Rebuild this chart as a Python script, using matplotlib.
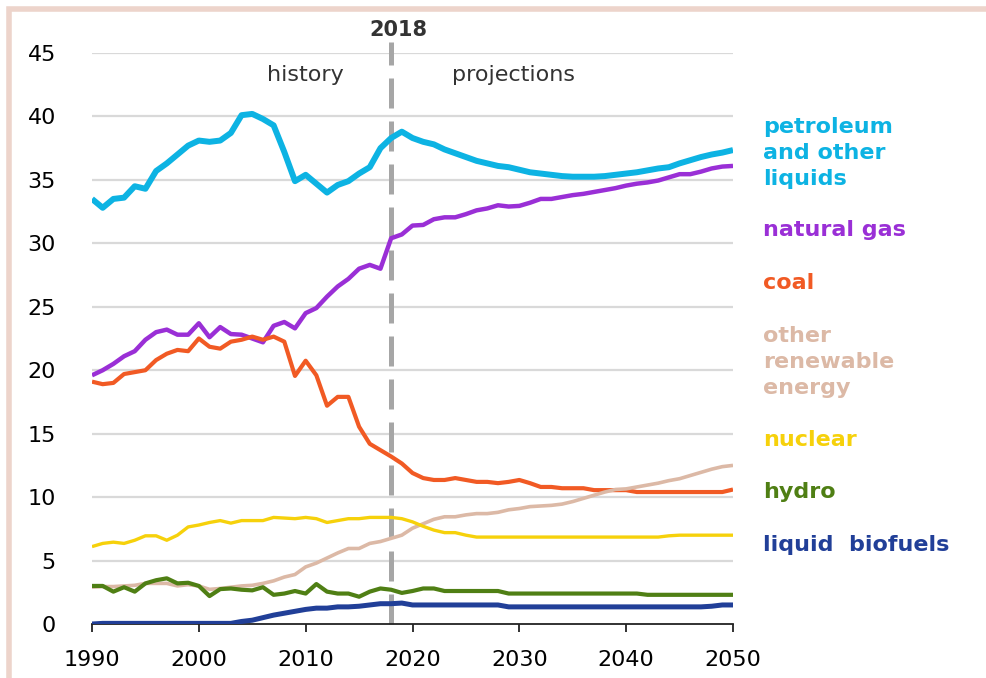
import numpy as np
import matplotlib
matplotlib.use("Agg")
import matplotlib.pyplot as plt
from matplotlib.patches import Rectangle

# energy consumption by fuel, history to 2018 then projections
years = np.arange(1990, 2051)

petroleum = [33.5, 32.8, 33.5, 33.6, 34.5, 34.3, 35.7, 36.3, 37.0, 37.7,
             38.1, 38.0, 38.1, 38.7, 40.1, 40.2, 39.8, 39.3, 37.2, 34.9,
             35.4, 34.7, 34.0, 34.6, 34.9, 35.5, 36.0, 37.5, 38.3, 38.8,
             38.3, 38.0, 37.8, 37.4, 37.1, 36.8, 36.5, 36.3, 36.1, 36.0,
             35.8, 35.6, 35.5, 35.4, 35.3, 35.25, 35.25, 35.25, 35.3, 35.4,
             35.5, 35.6, 35.75, 35.9, 36.0, 36.3, 36.55, 36.8, 37.0, 37.15,
             37.35]
natural_gas = [19.6, 20.0, 20.5, 21.1, 21.5, 22.4, 23.0, 23.2, 22.8, 22.8,
               23.7, 22.6, 23.4, 22.85, 22.8, 22.5, 22.2, 23.5, 23.8, 23.3,
               24.5, 24.9, 25.8, 26.6, 27.2, 28.0, 28.3, 28.0, 30.4, 30.7,
               31.4, 31.45, 31.9, 32.05, 32.05, 32.3, 32.6, 32.75, 33.0, 32.9,
               32.95, 33.2, 33.5, 33.5, 33.65, 33.8, 33.9, 34.05, 34.2, 34.35,
               34.55, 34.7, 34.8, 34.95, 35.2, 35.45, 35.45, 35.65, 35.9, 36.05,
               36.1]
coal = [19.1, 18.9, 19.0, 19.7, 19.85, 20.0, 20.8, 21.3, 21.6, 21.5,
        22.5, 21.85, 21.7, 22.25, 22.4, 22.65, 22.4, 22.65, 22.25, 19.55,
        20.75, 19.6, 17.2, 17.9, 17.9, 15.55, 14.2, 13.7, 13.2, 12.65,
        11.9, 11.5, 11.35, 11.35, 11.5, 11.35, 11.2, 11.2, 11.1, 11.2,
        11.35, 11.1, 10.8, 10.8, 10.7, 10.7, 10.7, 10.55, 10.55, 10.55,
        10.55, 10.4, 10.4, 10.4, 10.4, 10.4, 10.4, 10.4, 10.4, 10.4,
        10.6]
other_renewable = [2.9, 2.95, 2.95, 3.0, 3.05, 3.2, 3.2, 3.2, 3.0, 3.1,
                   3.0, 2.73, 2.8, 2.9, 3.0, 3.05, 3.2, 3.4, 3.7, 3.9,
                   4.5, 4.8, 5.2, 5.6, 5.95, 5.95, 6.35, 6.5, 6.75, 7.0,
                   7.55, 7.9, 8.25, 8.45, 8.45, 8.6, 8.7, 8.7, 8.8, 9.0,
                   9.1, 9.25, 9.3, 9.35, 9.45, 9.65, 9.9, 10.15, 10.4, 10.6,
                   10.65, 10.8, 10.95, 11.1, 11.3, 11.45, 11.7, 11.95, 12.2, 12.4,
                   12.5]
nuclear = [6.1, 6.35, 6.45, 6.35, 6.6, 6.95, 6.95, 6.6, 7.0, 7.65,
           7.8, 8.0, 8.15, 7.95, 8.15, 8.15, 8.15, 8.4, 8.35, 8.3,
           8.4, 8.3, 8.0, 8.15, 8.3, 8.3, 8.4, 8.4, 8.4, 8.3,
           8.05, 7.7, 7.4, 7.2, 7.2, 7.0, 6.85, 6.85, 6.85, 6.85,
           6.85, 6.85, 6.85, 6.85, 6.85, 6.85, 6.85, 6.85, 6.85, 6.85,
           6.85, 6.85, 6.85, 6.85, 6.95, 7.0, 7.0, 7.0, 7.0, 7.0,
           7.0]
hydro = [3.0, 3.0, 2.55, 2.9, 2.55, 3.2, 3.45, 3.6, 3.2, 3.25,
         3.0, 2.2, 2.75, 2.8, 2.7, 2.65, 2.9, 2.3, 2.4, 2.6,
         2.4, 3.15, 2.55, 2.4, 2.4, 2.15, 2.55, 2.8, 2.7, 2.45,
         2.6, 2.8, 2.8, 2.6, 2.6, 2.6, 2.6, 2.6, 2.6, 2.4,
         2.4, 2.4, 2.4, 2.4, 2.4, 2.4, 2.4, 2.4, 2.4, 2.4,
         2.4, 2.4, 2.3, 2.3, 2.3, 2.3, 2.3, 2.3, 2.3, 2.3,
         2.3]
liquid_biofuels = [0.0, 0.05, 0.05, 0.05, 0.05, 0.05, 0.05, 0.05, 0.05, 0.05,
                   0.05, 0.05, 0.05, 0.05, 0.2, 0.3, 0.5, 0.7, 0.85, 1.0,
                   1.15, 1.25, 1.25, 1.35, 1.35, 1.4, 1.5, 1.6, 1.6, 1.65,
                   1.5, 1.5, 1.5, 1.5, 1.5, 1.5, 1.5, 1.5, 1.5, 1.35,
                   1.35, 1.35, 1.35, 1.35, 1.35, 1.35, 1.35, 1.35, 1.35, 1.35,
                   1.35, 1.35, 1.35, 1.35, 1.35, 1.35, 1.35, 1.35, 1.4, 1.5,
                   1.5]

split_year = 2018
xticks = [1990, 2000, 2010, 2020, 2030, 2040, 2050]
yticks = [0, 5, 10, 15, 20, 25, 30, 35, 40, 45]

# (values, label, colour, linewidth, label y position)
series = [
    (petroleum, "petroleum\nand other\nliquids", "#0db3e3", 4.3, 37.1),
    (natural_gas, "natural gas", "#9a2fd6", 3.2, 31.05),
    (coal, "coal", "#f15a24", 3.0, 26.9),
    (other_renewable, "other\nrenewable\nenergy", "#dcb9a6", 2.6, 20.65),
    (nuclear, "nuclear", "#f6d10b", 2.4, 14.5),
    (hydro, "hydro", "#4f7f14", 3.0, 10.4),
    (liquid_biofuels, "liquid  biofuels", "#213f98", 3.6, 6.2),
]

plt.rcParams['font.family'] = ['DejaVu Sans']

fig = plt.figure(figsize=(9.86, 6.78), dpi=100)
ax = fig.add_axes([92 / 986, 1 - 624 / 678, (733 - 92) / 986, (624 - 53) / 678])

# pink frame on top and left
fig.add_artist(Rectangle((9 / 986, -0.1), 1.2, 1.1 - 9 / 678, transform=fig.transFigure,
                         fill=False, edgecolor="#edd4cb", linewidth=4.0))

for y in yticks[1:]:
    ax.axhline(y, color="#d9d9d9", linewidth=1.6, zorder=0)

ax.plot([split_year, split_year], [0, 45.9], color="#a6a6a6", linewidth=3.6,
        dashes=(6, 2.6), clip_on=False, zorder=1)

for values, label, color, lw, ylab in series:
    ax.plot(years, values, color=color, linewidth=lw, solid_capstyle="butt", zorder=3)
    ax.text(2052.8, ylab, label, color=color, fontsize=16, fontweight="bold",
            ha="left", va="center", linespacing=1.38, clip_on=False)

ax.text(split_year + 0.7, 46.8, "2018", fontsize=15, fontweight="bold",
        color="#333333", ha="center", va="center", clip_on=False)
ax.text(2010.0, 43.3, "history", fontsize=16, color="#333333", ha="center", va="center")
ax.text(2029.5, 43.3, "projections", fontsize=16, color="#333333", ha="center", va="center")

ax.set_xlim(1990, 2050)
ax.set_ylim(0, 45)
ax.set_xticks(xticks)
ax.set_yticks(yticks)
for side in ["top", "right", "left"]:
    ax.spines[side].set_visible(False)
ax.spines["bottom"].set_color("#222222")
ax.spines["bottom"].set_linewidth(1.3)
ax.tick_params(axis="x", direction="out", length=6, width=1.3, color="#222222",
               labelsize=16, pad=13)
ax.tick_params(axis="y", length=0, labelsize=16, pad=26)

fig.savefig("out.png", dpi=100)
